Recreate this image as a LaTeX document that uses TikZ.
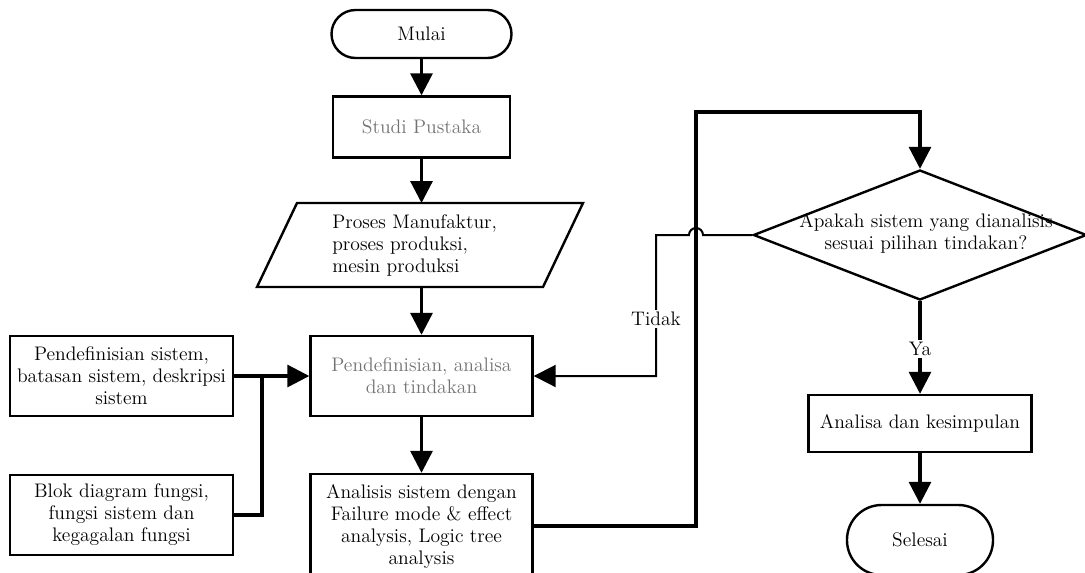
\documentclass[tikz,border=0pt]{standalone}
\usetikzlibrary{arrows.meta,shapes.geometric}
\begin{document}
\begin{tikzpicture}[x=0.75pt,y=-0.75pt,
  every node/.style={font=\fontsize{14.7}{16.5}\selectfont},
  box/.style={draw,line width=1.8pt,rectangle,inner sep=0pt,align=center},
  grayt/.style={text=black!55},
  arr/.style={line width=2.4pt,-{Triangle[length=16.5pt,width=16.5pt]}},
  thinarr/.style={line width=1.5pt,-{Triangle[length=16.5pt,width=16.5pt]}},
  plain/.style={line width=2.4pt},
  lbl/.style={fill=white,inner sep=1.5pt}
]
\useasboundingbox (0,0) rectangle (1085,572);

% nodes
\node[box,rounded corners=18pt,minimum width=135pt,minimum height=36pt] (mulai) at (421.5,34) {Mulai};
\node[box,grayt,minimum width=132.75pt,minimum height=45.75pt] (studi) at (421.5,127) {Studi Pustaka};
\draw[line width=1.8pt] (297,203) -- (583,203) -- (543,287) -- (257,287) -- cycle;
\node[align=left,anchor=west,inner sep=0pt] (proses) at (332,245) {Proses Manufaktur,\\proses produksi,\\mesin produksi};
\coordinate (ptop) at (421.5,203);
\coordinate (pbot) at (421.5,287);
\node[box,grayt,minimum width=166.5pt,minimum height=60pt] (pend) at (421.5,376) {Pendefinisian, analisa\\dan tindakan};
\node[box,minimum width=166.5pt,minimum height=78pt] (anl) at (421.5,526) {Analisis sistem dengan\\Failure mode \& effect\\analysis, Logic tree\\analysis};
\node[box,minimum width=167.25pt,minimum height=60pt] (def) at (121.5,376) {Pendefinisian sistem,\\batasan sistem, deskripsi\\sistem};
\node[box,minimum width=167.25pt,minimum height=60pt] (blok) at (121.5,515) {Blok diagram fungsi,\\fungsi sistem dan\\kegagalan fungsi};
\node[diamond,draw,line width=1.8pt,inner sep=0pt,minimum width=250pt,minimum height=97.5pt] (dia) at (920,235) {};
\node[align=center] (diat) at (926,233) {Apakah sistem yang dianalisis\\sesuai pilihan tindakan?};
\node[box,minimum width=167.25pt,minimum height=42.75pt] (anal) at (920,423.5) {Analisa dan kesimpulan};
\node[box,rounded corners=26pt,minimum width=109.5pt,minimum height=52.5pt] (selesai) at (920,540) {Selesai};

\coordinate (j1) at (262,376);
\coordinate (ctop) at (696,112);
\coordinate (jr) at (703,235);
\coordinate (ct) at (656,235);

% connectors
\draw[arr] (mulai) -- (studi);
\draw[arr] (studi) -- (ptop);
\draw[arr] (pbot) -- (pend);
\draw[arr] (pend) -- (anl);
\draw[arr] (def.east) -- (pend.west);
\draw[plain] (blok.east) -| (j1);
\draw[arr] (anl.east) -| (ctop) -| (dia.north);
\draw[thinarr] (dia.west) -- (jr) arc[start angle=0,end angle=180,radius=5.25pt] -- (ct) |- (pend.east);
\node[lbl] (tidak) at (656,319) {Tidak};
\draw[arr] (dia.south) -- (anal);
\node[lbl] (ya) at (920,349) {Ya};
\draw[arr] (anal) -- (selesai);
\end{tikzpicture}
\end{document}
